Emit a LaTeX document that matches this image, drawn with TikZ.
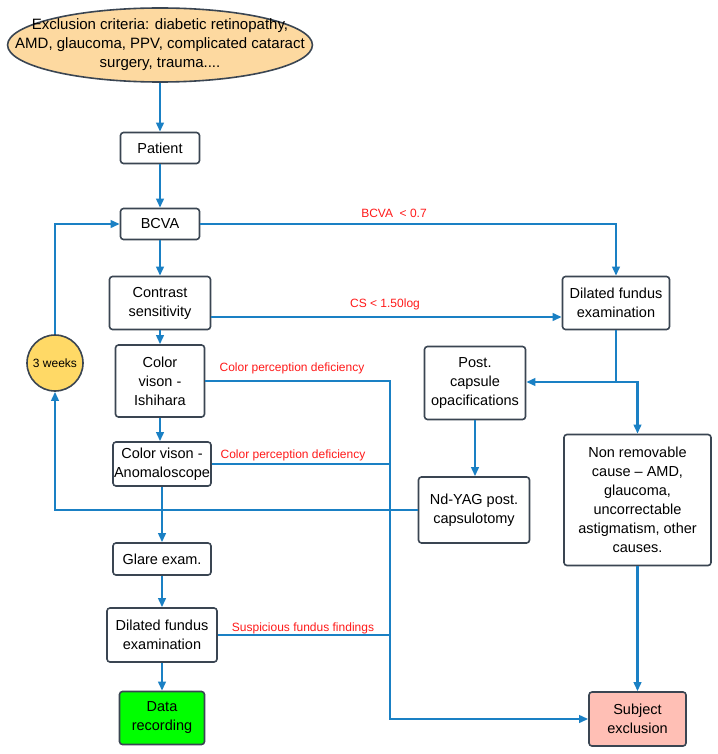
\documentclass[tikz,border=0pt]{standalone}
\usepackage{fontspec}
\setmainfont{Liberation Sans}
\usetikzlibrary{shapes.geometric,arrows.meta}
\definecolor{lineblue}{HTML}{1A80C4}
\definecolor{boxborder}{HTML}{3A4552}
\definecolor{ellfill}{HTML}{FDD9A0}
\definecolor{greenfill}{HTML}{00FF00}
\definecolor{pinkfill}{HTML}{FFBFB5}
\definecolor{yellowfill}{HTML}{FFD966}
\definecolor{labelred}{HTML}{FF1A1A}
\begin{document}
\begin{tikzpicture}[x=1pt,y=-1pt,
  box/.style={draw=boxborder,line width=1.6pt,rounded corners=3pt,fill=white,align=center,inner sep=0pt,font=\fontsize{14.5}{19}\selectfont},
  conn/.style={draw=lineblue,line width=2.2pt},
  arr/.style={conn,-{Triangle[length=9pt,width=7.5pt]}},
  lbl/.style={text=labelred,font=\fontsize{12}{14}\selectfont,inner sep=0pt}]
\useasboundingbox (0,0) rectangle (717,754);
\fill[white] (0,0) rectangle (717,754);

\node[ellipse,draw=boxborder,line width=1.6pt,fill=ellfill,inner xsep=-37pt,inner ysep=0pt,minimum height=74pt,align=center,font=\fontsize{15}{19}\selectfont] (excl) at (160,45)
  {Exclusion criteria: diabetic retinopathy,\\AMD, glaucoma, PPV, complicated cataract\\surgery, trauma....};

\node[box,minimum width=79pt,minimum height=31pt] (patient) at (160,148) {Patient};
\node[box,minimum width=79pt,minimum height=31pt] (bcva) at (160,224) {BCVA};
\node[box,minimum width=101pt,minimum height=53pt] (contrast) at (160,303) {Contrast\\sensitivity};
\node[box,minimum width=89pt,minimum height=72pt] (ishihara) at (160,381) {Color\\vison -\\Ishihara};
\node[box,minimum width=98pt,minimum height=44pt] (anomal) at (162,464) {Color vison -\\Anomaloscope};
\node[box,minimum width=98pt,minimum height=32pt] (glare) at (162,559) {Glare exam.};
\node[box,minimum width=110pt,minimum height=54pt] (fundusL) at (162,635) {Dilated fundus\\examination};
\node[box,fill=greenfill,minimum width=85pt,minimum height=53pt] (data) at (162,718) {Data\\recording};
\node[box,minimum width=107pt,minimum height=53pt] (fundusR) at (616,303) {Dilated fundus\\examination};
\node[box,minimum width=101pt,minimum height=73pt] (post) at (475,383) {Post.\\capsule\\opacifications};
\node[box,minimum width=111pt,minimum height=66pt] (ndyag) at (474,510) {Nd-YAG post.\\capsulotomy};
\node[box,minimum width=147pt,minimum height=131pt] (nonrem) at (637.5,500) {Non removable\\cause -- AMD,\\glaucoma,\\uncorrectable\\astigmatism, other\\causes.};
\node[box,fill=pinkfill,minimum width=97pt,minimum height=54pt] (subj) at (637.5,719) {Subject\\exclusion};
\node[circle,draw=boxborder,line width=1.6pt,fill=yellowfill,minimum size=56pt,inner sep=0pt,font=\fontsize{12}{14}\selectfont] (wk) at (55,363) {3 weeks};

% main vertical flow
\draw[arr] (excl) -- (patient);
\draw[arr] (patient) -- (bcva);
\draw[arr] (bcva) -- (contrast);
\draw[arr] (contrast) -- (ishihara);
\draw[arr] (ishihara.south) -- (ishihara.south |- anomal.north);
\draw[arr] (anomal) -- (glare);
\draw[arr] (glare) -- (fundusL);
\draw[arr] (fundusL) -- (data);

% BCVA -> right fundus
\draw[arr] (bcva.east) -| (fundusR.north);
\node[lbl] (l1) at (394,213) {BCVA\ \ < 0.7};
% contrast -> right fundus
\draw[arr] (contrast.east |- 0,317) -- (fundusR.west |- 0,317);
\node[lbl] (l2) at (385,304) {CS < 1.50log};

% exclusion bus
\coordinate (jx) at (390,0);
\draw[arr] (ishihara.east) -- (ishihara.east -| jx) -- (jx |- subj.west) -- (subj.west);
\draw[conn] (anomal.east) -- (anomal.east -| jx);
\draw[conn] (fundusL.east) -- (fundusL.east -| jx);
\node[lbl] (l3) at (292,368) {Color perception deficiency};
\node[lbl] (l4) at (293,455) {Color perception deficiency};
\node[lbl] (l5) at (303,628) {Suspicious fundus findings};

% right branch
\coordinate (jr) at (616,382);
\draw[conn] (fundusR.south) -- (jr);
\draw[arr] (jr) -- (post.east |- jr);
\draw[arr] (jr) -| (nonrem.north);
\draw[arr] (post) -- (post.south |- ndyag.north);
\draw[arr] (nonrem) -- (subj);

% loop back
\draw[arr] (ndyag.west) -| (wk.south);
\draw[arr] (wk.north) |- (bcva.west);
\end{tikzpicture}
\end{document}
